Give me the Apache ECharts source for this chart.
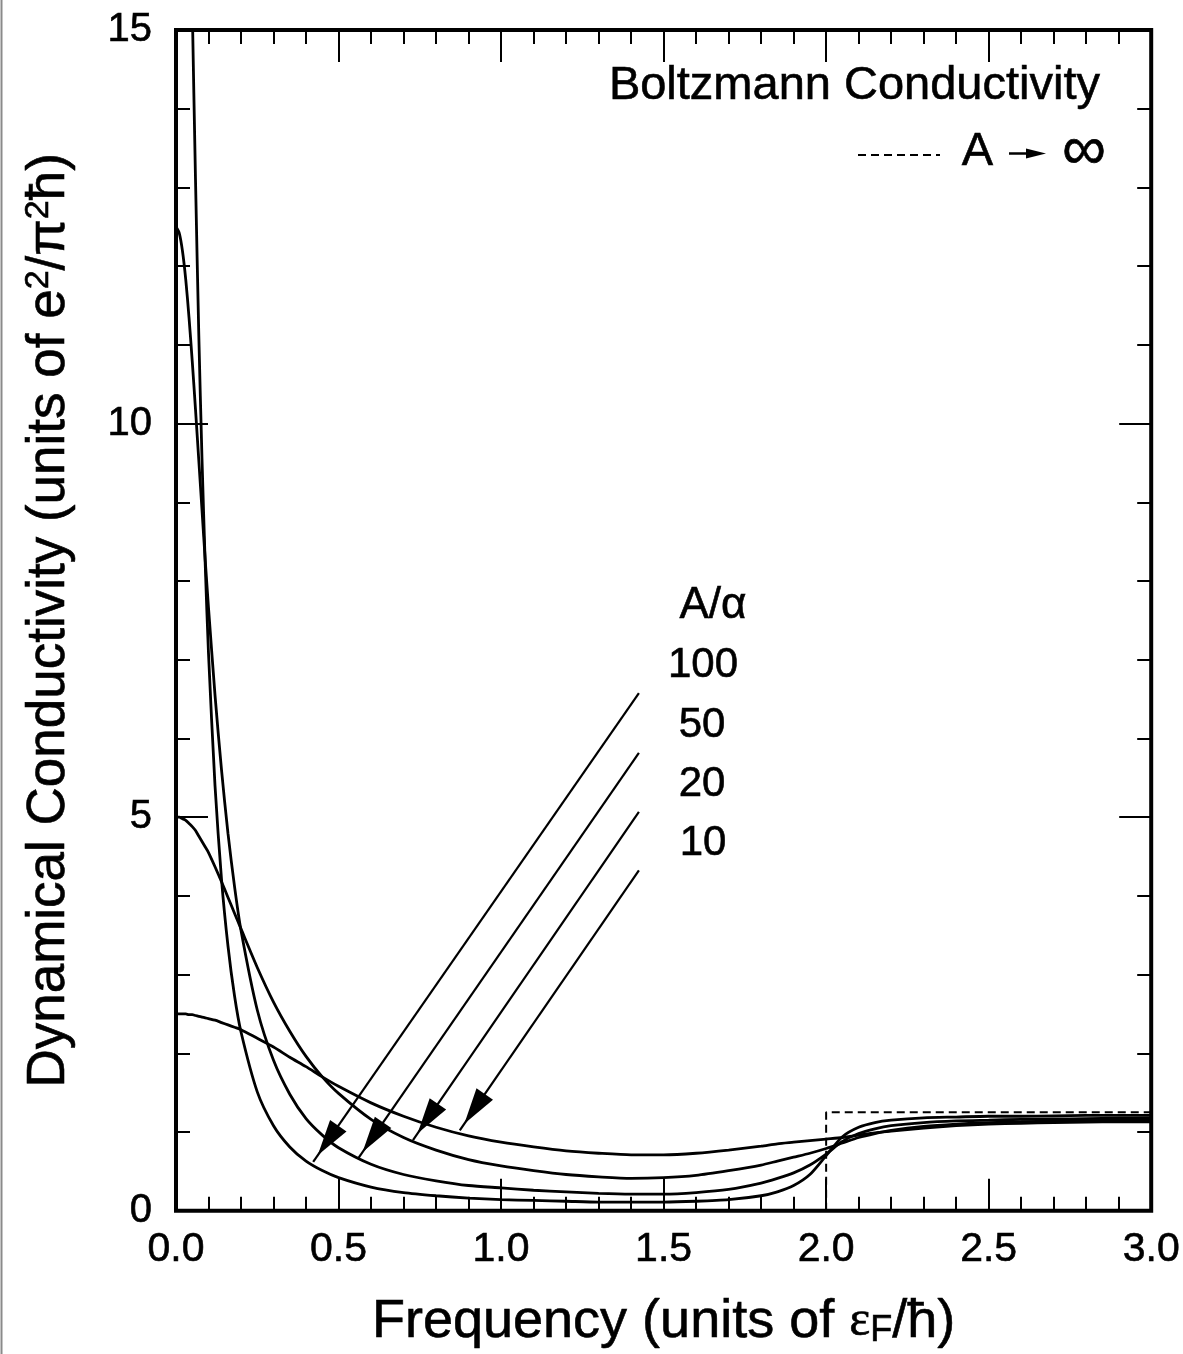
<!DOCTYPE html>
<html>
<head>
<meta charset="utf-8">
<script src="https://cdn.jsdelivr.net/npm/echarts@6/dist/echarts.min.js"></script>
<style>
html,body{margin:0;padding:0;background:#fff;}
#chart{width:1183px;height:1354px;}
</style>
</head>
<body>
<div id="chart"></div>
<script>
// ---- data ----
var freq = [0, 0.01, 0.02, 0.03, 0.04, 0.05, 0.06, 0.07, 0.08, 0.09, 0.10, 0.12, 0.14, 0.16, 0.18, 0.20, 0.25, 0.30, 0.35, 0.40, 0.45, 0.50, 0.60, 0.70, 0.80, 0.90, 1.00, 1.10, 1.20, 1.30, 1.40, 1.50, 1.60, 1.70, 1.80, 1.85, 1.90, 1.95, 2.00, 2.05, 2.10, 2.15, 2.20, 2.30, 2.40, 2.50, 2.60, 2.70, 2.80, 2.90, 3.00];

var sigma100 = [25, 24.4, 22.7, 20.4, 17.8, 15.3, 13.1, 11.15, 9.55, 8.2, 7.08, 5.4, 4.21, 3.36, 2.73, 2.27, 1.51, 1.08, 0.81, 0.63, 0.51, 0.42, 0.30, 0.23, 0.19, 0.16, 0.14, 0.13, 0.12, 0.11, 0.11, 0.11, 0.12, 0.14, 0.19, 0.24, 0.32, 0.46, 0.70, 0.94, 1.06, 1.12, 1.15, 1.18, 1.19, 1.20, 1.20, 1.205, 1.21, 1.21, 1.21];
var sigma50 = [12.5, 12.42, 12.19, 11.83, 11.35, 10.79, 10.18, 9.54, 8.9, 8.26, 7.66, 6.55, 5.6, 4.79, 4.12, 3.56, 2.55, 1.91, 1.48, 1.17, 0.96, 0.80, 0.59, 0.46, 0.38, 0.32, 0.29, 0.26, 0.24, 0.22, 0.21, 0.21, 0.23, 0.27, 0.35, 0.41, 0.48, 0.58, 0.72, 0.88, 0.98, 1.04, 1.08, 1.12, 1.14, 1.15, 1.16, 1.165, 1.17, 1.175, 1.18];
var sigma20 = [5.0, 5.0, 4.98, 4.96, 4.92, 4.88, 4.83, 4.76, 4.69, 4.62, 4.55, 4.37, 4.18, 3.98, 3.78, 3.58, 3.09, 2.65, 2.28, 1.96, 1.70, 1.49, 1.16, 0.93, 0.77, 0.65, 0.57, 0.51, 0.46, 0.43, 0.41, 0.42, 0.45, 0.51, 0.58, 0.63, 0.68, 0.73, 0.79, 0.86, 0.93, 0.98, 1.02, 1.07, 1.10, 1.12, 1.13, 1.14, 1.145, 1.15, 1.15];
var sigma10 = [2.5, 2.5, 2.5, 2.5, 2.49, 2.49, 2.48, 2.47, 2.46, 2.45, 2.44, 2.42, 2.39, 2.36, 2.33, 2.30, 2.19, 2.08, 1.95, 1.83, 1.70, 1.58, 1.37, 1.20, 1.06, 0.95, 0.87, 0.81, 0.76, 0.73, 0.71, 0.71, 0.73, 0.77, 0.82, 0.85, 0.87, 0.89, 0.91, 0.93, 0.96, 0.99, 1.01, 1.05, 1.08, 1.10, 1.11, 1.12, 1.125, 1.13, 1.13];

// Boltzmann limit (A -> infinity), dashed
var boltzX = [2.0, 2.0, 3.0];
var boltzY = [0, 1.25, 1.25];

// arrows: [x start, y start, x end, y end] in data units
var arrowData = [
  [1.424, 6.576, 0.422, 0.621],
  [1.424, 5.815, 0.560, 0.663],
  [1.424, 5.067, 0.729, 0.896],
  [1.424, 4.324, 0.873, 1.022]
];

var xTicks = [0, 0.5, 1.0, 1.5, 2.0, 2.5, 3.0];
var yTicks = [0, 5, 10, 15];
var ratioLabels = ['100', '50', '20', '10'];

// ---- build ----
function pairs(xs, ys) { return xs.map(function (x, i) { return [x, ys[i]]; }); }

var FONT = 'Liberation Sans, Arial, Helvetica, sans-serif';
var black = '#000';
var TB = 0.6; // slight text stroke to mimic heavier rendering

function curve(name, ys) {
  return {
    name: name, type: 'line', data: pairs(freq, ys),
    showSymbol: false, smooth: 0.25, clip: true,
    lineStyle: { color: black, width: 2.8 }, z: 3
  };
}

var tickCommon = { inside: true, length: 32, lineStyle: { color: black, width: 2 } };
var minorCommon = { show: true, splitNumber: 5, length: 14, lineStyle: { color: black, width: 2 } };

var chart = echarts.init(document.getElementById('chart'), null, { renderer: 'canvas' });

function txt(x, y, text, size, align) {
  return { type: 'text', x: x, y: y, style: { text: text, font: size + 'px ' + FONT, fill: black, stroke: black, lineWidth: TB, textAlign: align, textVerticalAlign: 'middle' } };
}

var option = {
  animation: false,
  backgroundColor: '#fff',
  textStyle: { fontFamily: FONT },
  grid: { left: 176, right: 31, top: 30, bottom: 140, show: true, borderColor: black, borderWidth: 4, backgroundColor: 'transparent' },
  xAxis: [{
    type: 'value', min: 0, max: 3, interval: 0.5, position: 'bottom',
    axisLine: { show: false, onZero: false },
    axisTick: tickCommon, minorTick: minorCommon, splitLine: { show: false },
    axisLabel: {
      margin: 18, color: black, fontSize: 41, fontFamily: FONT, textBorderColor: black, textBorderWidth: TB,
      formatter: function (v) { return xTicks.indexOf(v) >= 0 ? v.toFixed(1) : ''; }
    },
    name: 'Frequency (units of {eps|ε}{sub|F}/ħ)', nameLocation: 'middle', nameGap: 84,
    nameTextStyle: {
      fontSize: 54, color: black, fontFamily: FONT, textBorderColor: black, textBorderWidth: TB,
      rich: {
        eps: { fontSize: 50, fontFamily: 'Liberation Serif, serif', color: black, textBorderColor: black, textBorderWidth: TB },
        sub: { fontSize: 36, color: black, fontFamily: FONT, padding: [18, 0, 0, 0], textBorderColor: black, textBorderWidth: TB }
      }
    }
  }, {
    type: 'value', min: 0, max: 3, interval: 0.5, position: 'top',
    axisLine: { show: false, onZero: false },
    axisTick: tickCommon, minorTick: minorCommon, splitLine: { show: false },
    axisLabel: { show: false }
  }],
  yAxis: [{
    type: 'value', min: 0, max: 15, interval: 5, position: 'left',
    axisLine: { show: false, onZero: false },
    axisTick: tickCommon, minorTick: minorCommon, splitLine: { show: false },
    axisLabel: {
      margin: 24, color: black, fontSize: 40, fontFamily: FONT, textBorderColor: black, textBorderWidth: TB,
      formatter: function (v) { return yTicks.indexOf(v) >= 0 ? String(v) : ''; }
    },
    name: 'Dynamical Conductivity (units of e{sup|2}/π{sup|2}ħ)', nameLocation: 'middle', nameGap: 100,
    nameTextStyle: {
      fontSize: 53, color: black, fontFamily: FONT, textBorderColor: black, textBorderWidth: TB,
      rich: {
        sup: { fontSize: 34, color: black, fontFamily: FONT, padding: [0, 0, 20, 0], textBorderColor: black, textBorderWidth: TB }
      }
    }
  }, {
    type: 'value', min: 0, max: 15, interval: 5, position: 'right',
    axisLine: { show: false, onZero: false },
    axisTick: tickCommon, minorTick: minorCommon, splitLine: { show: false },
    axisLabel: { show: false }
  }],
  series: [
    curve('100', sigma100),
    curve('50', sigma50),
    curve('20', sigma20),
    curve('10', sigma10),
    {
      name: 'Boltzmann', type: 'line', data: pairs(boltzX, boltzY), showSymbol: false,
      lineStyle: { color: black, width: 2, type: [8, 5] }, z: 2
    },
    {
      type: 'custom', coordinateSystem: 'cartesian2d', data: arrowData, silent: true, z: 4,
      encode: { x: [0, 2], y: [1, 3] },
      renderItem: function (params, api) {
        var p1 = api.coord([api.value(0), api.value(1)]);
        var p2 = api.coord([api.value(2), api.value(3)]);
        var dx = p2[0] - p1[0], dy = p2[1] - p1[1];
        var L = Math.sqrt(dx * dx + dy * dy), ux = dx / L, uy = dy / L;
        var gap = 8, hl = 36, hw = 10;
        var tip = [p2[0] - ux * gap, p2[1] - uy * gap];
        var base = [tip[0] - ux * hl, tip[1] - uy * hl];
        var nx = -uy, ny = ux;
        return {
          type: 'group', children: [
            { type: 'line', shape: { x1: p1[0], y1: p1[1], x2: p2[0], y2: p2[1] }, style: { stroke: black, lineWidth: 2.2 } },
            { type: 'polygon', shape: { points: [tip, [base[0] + nx * hw, base[1] + ny * hw], [base[0] - nx * hw, base[1] - ny * hw]] }, style: { fill: black } }
          ]
        };
      }
    }
  ],
  graphic: [
    { type: 'line', shape: { x1: 1.5, y1: 0, x2: 1.5, y2: 1354 }, style: { stroke: '#8a8a8a', lineWidth: 2 } },
    txt(1100, 86, 'Boltzmann Conductivity', 47, 'right'),
    { type: 'line', shape: { x1: 858, y1: 155, x2: 940, y2: 155 }, style: { stroke: black, lineWidth: 2.2, lineDash: [8, 5] } },
    txt(993, 152, 'A', 47, 'right'),
    { type: 'line', shape: { x1: 1009, y1: 153.5, x2: 1030, y2: 153.5 }, style: { stroke: black, lineWidth: 2.5 } },
    { type: 'polygon', shape: { points: [[1046, 153.5], [1026, 148.5], [1026, 158.5]] }, style: { fill: black } },
    txt(1084, 152, '∞', 62, 'center'),
    txt(713, 606, 'A/α', 44, 'center'),
    txt(703, 665, ratioLabels[0], 42, 'center'),
    txt(702, 725, ratioLabels[1], 42, 'center'),
    txt(702, 784, ratioLabels[2], 42, 'center'),
    txt(703, 843, ratioLabels[3], 42, 'center')
  ]
};
chart.setOption(option);
</script>
</body>
</html>
